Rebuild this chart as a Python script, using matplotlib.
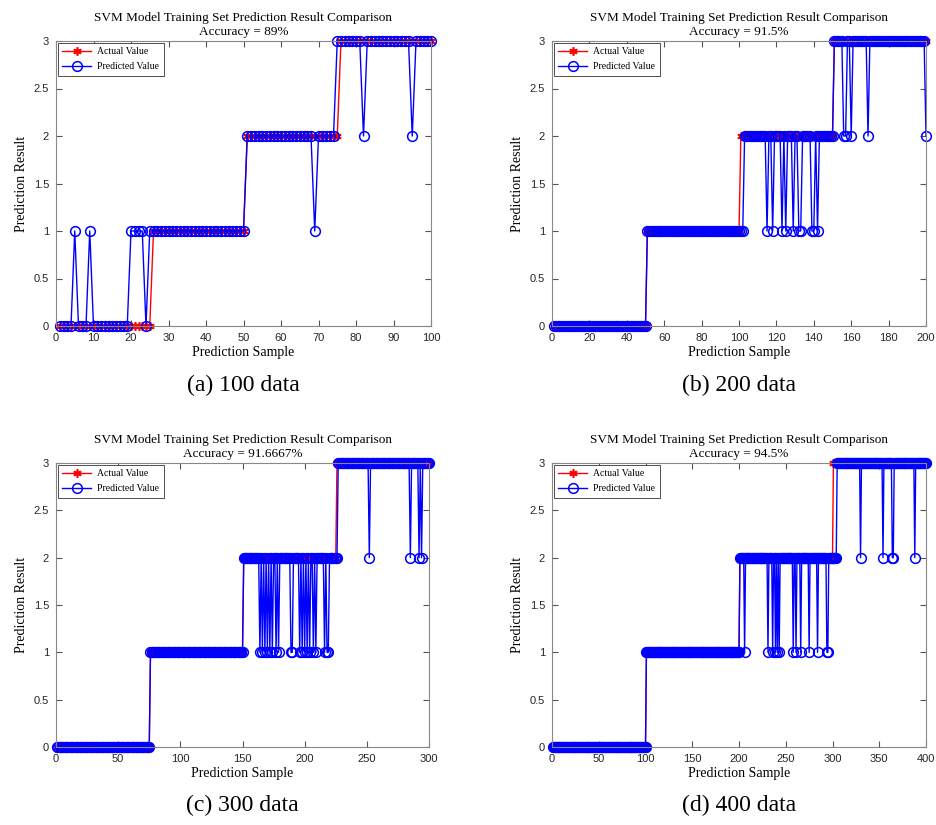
import numpy as np
import matplotlib
matplotlib.use("Agg")
import matplotlib.pyplot as plt

# number of samples per class in each panel
class_sizes = [25, 50, 75, 100]
panel_totals = [100, 200, 300, 400]
panel_tags = ["(a)", "(b)", "(c)", "(d)"]
accuracies = ["89%", "91.5%", "91.6667%", "94.5%"]

# misclassified samples (1-based index) and the predicted class there
wrong_idx_a = [5, 9, 20, 21, 22, 23, 25, 69, 75, 82, 95]
wrong_val_a = [1, 1, 1, 1, 1, 1, 1, 1, 3, 2, 2]

wrong_idx_b = [101, 102, 115, 118, 123, 125, 129, 132, 133, 139, 140, 142,
               156, 157, 160, 169, 200]
wrong_val_b = [1, 1, 1, 1, 1, 1, 1, 1, 1, 1, 1, 1, 2, 2, 2, 2, 2]

wrong_idx_c = [164, 166, 168, 170, 172, 174, 177, 179, 189, 190, 196, 198,
               200, 202, 204, 207, 209, 216, 218, 219, 226, 252, 285, 292, 294]
wrong_val_c = [1] * 20 + [2] * 5

wrong_idx_d = [206, 231, 236, 239, 241, 243, 258, 261, 266, 275, 284, 294, 295,
               301, 302, 303, 304, 330, 354, 364, 365, 388]
wrong_val_d = [1] * 13 + [2] * 9

wrong_idx = [wrong_idx_a, wrong_idx_b, wrong_idx_c, wrong_idx_d]
wrong_val = [wrong_val_a, wrong_val_b, wrong_val_c, wrong_val_d]

xtick_steps = [10, 20, 50, 50]

serif = "Liberation Serif"
sans = "Liberation Sans"

fig = plt.figure(figsize=(9.36, 8.25), dpi=100)

positions = [
    [56 / 936, 1 - 326 / 825, 375 / 936, 285 / 825],
    [552 / 936, 1 - 326 / 825, 374 / 936, 285 / 825],
    [56 / 936, 1 - 747 / 825, 373 / 936, 284 / 825],
    [552 / 936, 1 - 747 / 825, 374 / 936, 284 / 825],
]
caption_y = [1 - 385 / 825, 1 - 385 / 825, 1 - 805 / 825, 1 - 805 / 825]

for k in range(4):
    n = panel_totals[k]
    actual = np.repeat([0, 1, 2, 3], class_sizes[k])
    predicted = actual.copy()
    for i, v in zip(wrong_idx[k], wrong_val[k]):
        predicted[i - 1] = v
    x = np.arange(1, n + 1)

    ax = fig.add_axes(positions[k])
    ax.plot(x, actual, color="red", lw=1, marker=(6, 2, 0), ms=6, mew=1.2,
            label="Actual Value", clip_on=False)
    ax.plot(x, predicted, color="blue", lw=1, marker="o", ms=7, mfc="none",
            mew=1.1, label="Predicted Value", clip_on=False)

    ax.set_xlim(0, n)
    ax.set_ylim(0, 3)
    ax.set_xticks(np.arange(0, n + 1, xtick_steps[k]))
    ax.set_yticks([0, 0.5, 1, 1.5, 2, 2.5, 3])
    ax.set_yticklabels(["0", "0.5", "1", "1.5", "2", "2.5", "3"])
    ax.tick_params(direction="in", top=True, right=True, length=4,
                   color="#555555", labelsize=8, pad=5)
    for lab in ax.get_xticklabels() + ax.get_yticklabels():
        lab.set_fontfamily(sans)
        lab.set_color("#262626")
    for sp in ax.spines.values():
        sp.set_color("#888888")
        sp.set_linewidth(0.8)

    ax.set_title("SVM Model Training Set Prediction Result Comparison\n"
                 f"Accuracy = {accuracies[k]}",
                 fontfamily=serif, fontsize=9.5, pad=4, linespacing=1.3)
    ax.set_xlabel("Prediction Sample", fontfamily=serif, fontsize=10, labelpad=2)
    ax.set_ylabel("Prediction Result", fontfamily=serif, fontsize=10, labelpad=4)

    leg = ax.legend(loc="upper left", prop={"family": serif, "size": 7},
                    fancybox=False, framealpha=1, edgecolor="#333333",
                    borderpad=0.45, handlelength=3.0, borderaxespad=0.2,
                    labelspacing=0.6, handletextpad=0.6)
    leg.get_frame().set_linewidth(0.6)

    fig.text(positions[k][0] + positions[k][2] / 2, caption_y[k],
             f"{panel_tags[k]} {n} data", ha="center", va="center",
             fontfamily=serif, fontsize=17)

fig.savefig("out.png", dpi=100)
